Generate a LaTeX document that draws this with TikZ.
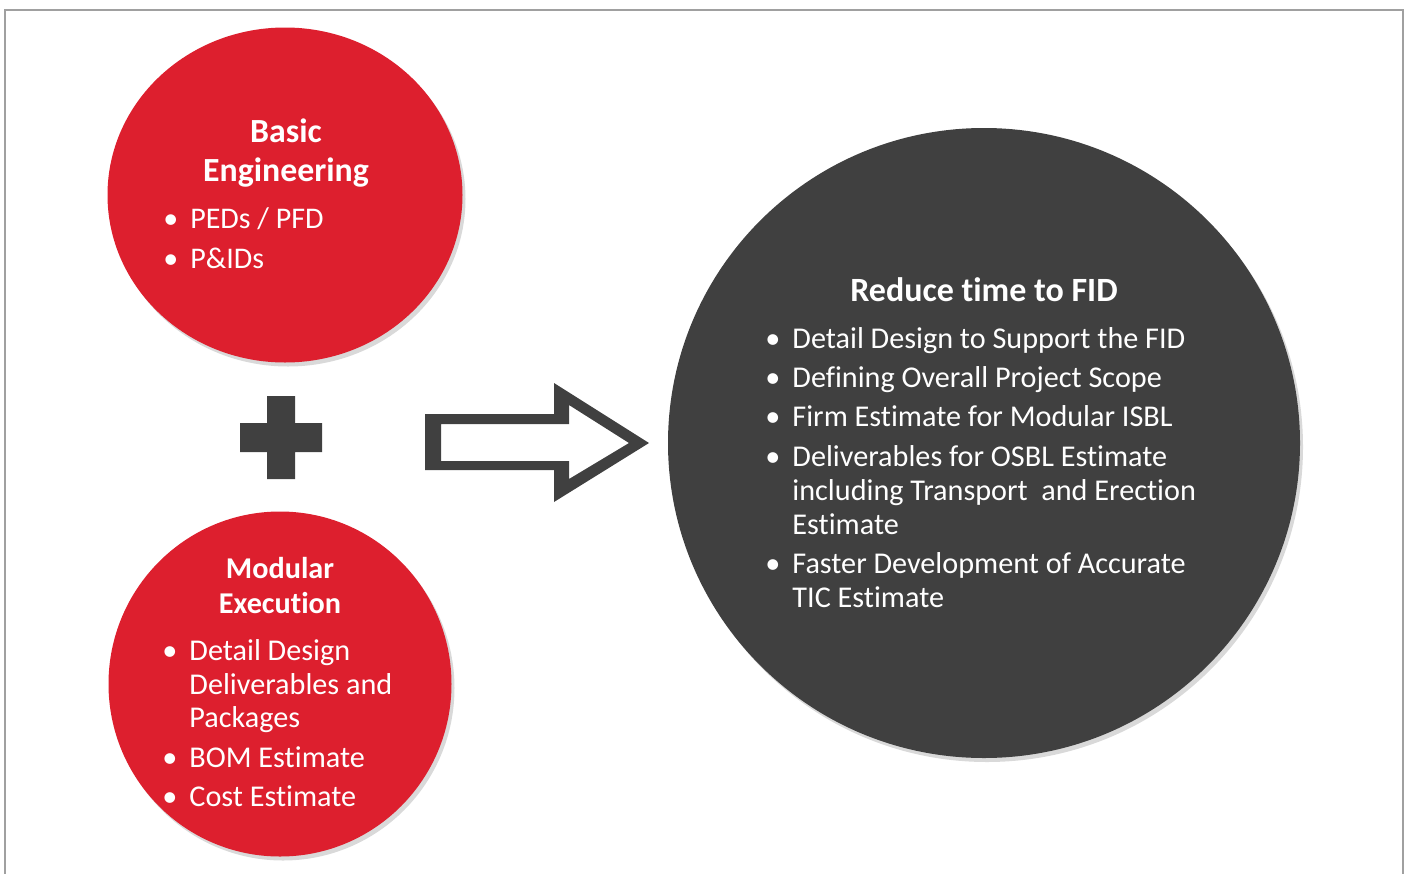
\documentclass[tikz,border=0pt]{standalone}
\usepackage{fontspec}
\setmainfont{Carlito}[RawFeature={-liga;-clig;-calt}]
\usetikzlibrary{shapes.geometric,shadows}
\definecolor{kred}{HTML}{DD1F2E}
\definecolor{kdark}{HTML}{404040}
\definecolor{kframe}{HTML}{A0A0A0}
\tikzset{
  bubble/.style={ellipse,draw=none,inner sep=0pt,drop shadow={shadow xshift=1.5pt,shadow yshift=-2pt,opacity=0.3}},
  head/.style={text=white,align=center,inner sep=0pt},
  items/.style={text=white,anchor=west,inner sep=0pt},
}
\begin{document}
\begin{tikzpicture}[x=0.5pt,y=-0.5pt]
   
                \useasboundingbox (0,0) rectangle (1408,873);
                \draw[kframe,line width=0.7pt] (5,880) -- (5,10) -- (1403,10) -- (1403,880); %frame
                
                \node[bubble,fill=kred,minimum width=177.5pt,minimum height=167.5pt] (basic) at (285,195) {}; %top circle
                \node[bubble,fill=kred,minimum width=171.5pt,minimum height=172.5pt] (modular) at (280,684) {}; %bottom circle
                \node[bubble,fill=kdark,minimum width=316pt,minimum height=315pt] (fid) at (984,443) {}; %right circle
                
                \node[head,font=\bfseries\fontsize{16.9}{19.5}\selectfont] (basichead) at (286,153) {Basic\\Engineering};
                \node[items,font=\fontsize{15}{17}\selectfont] (basiclist) at (163,242) {\begin{tabular}{@{}l@{\hspace{6pt}}l@{}}
                  \textbullet & PEDs / PFD\\[3pt]
                  \textbullet & P\&IDs
                \end{tabular}};
                
                \node[head,font=\bfseries\fontsize{15.1}{17.5}\selectfont] (modularhead) at (280,586) {Modular\\Execution};
                \node[items,font=\fontsize{15.1}{16.75}\selectfont] (modularlist) at (162,727) {\begin{tabular}{@{}l@{\hspace{6pt}}l@{}}
                  \textbullet & Detail Design\\
                   & Deliverables and\\
                   & Packages\\[3pt]
                  \textbullet & BOM Estimate\\[3pt]
                  \textbullet & Cost Estimate
                \end{tabular}};
                
                \node[head,font=\bfseries\fontsize{17}{17}\selectfont] (fidhead) at (984,290) {Reduce time to FID};
                \node[items,font=\fontsize{15.1}{17}\selectfont] (fidlist) at (765,471) {\begin{tabular}{@{}l@{\hspace{6pt}}l@{}}
                  \textbullet & Detail Design to Support the FID\\[2.6pt]
                  \textbullet & Defining Overall Project Scope\\[2.6pt]
                  \textbullet & Firm Estimate for Modular ISBL\\[2.6pt]
                  \textbullet & Deliverables for OSBL Estimate\\
                   & including Transport\ \ and Erection\\
                   & Estimate\\[2.6pt]
                  \textbullet & Faster Development of Accurate\\
                   & TIC Estimate
                \end{tabular}};
                
                \fill[kdark] (267,396) rectangle (295,479) (240,423) rectangle (322,452); %plus
                \fill[kdark,even odd rule] (425,414) -- (554,414) -- (554,383) -- (649,443) -- (554,502) -- (554,470) -- (425,470) -- cycle
                  (441,424) -- (569,424) -- (569,405) -- (629,443) -- (569,479) -- (569,461) -- (441,461) -- cycle; %arrow
        
\end{tikzpicture}
\end{document}
